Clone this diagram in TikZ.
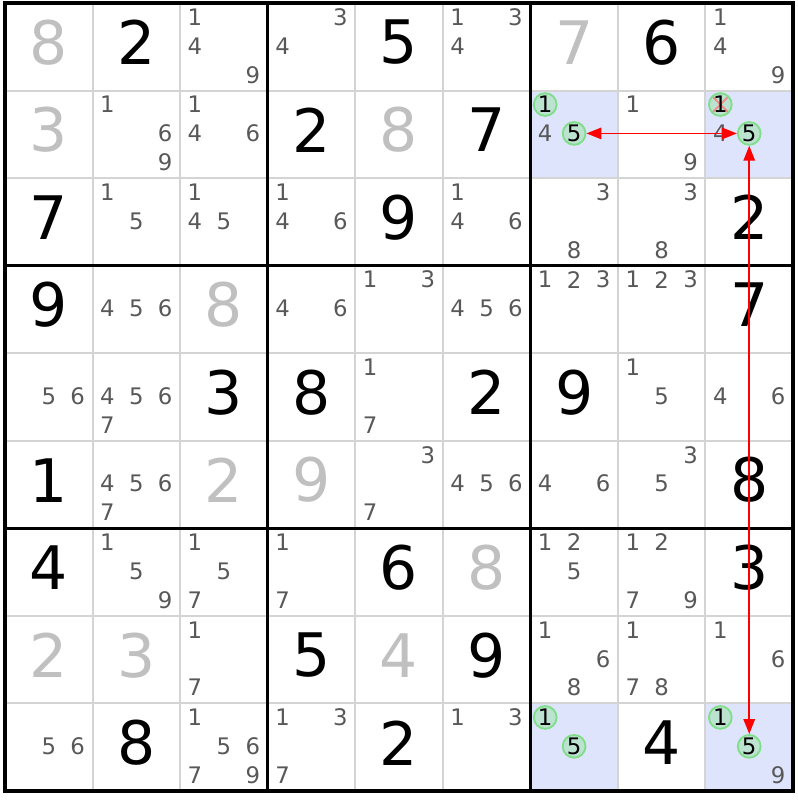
\documentclass[tikz,border=0pt]{standalone}
\usepackage{fontspec}
\setmainfont{DejaVu Sans}
\usetikzlibrary{arrows.meta}
\definecolor{gridgray}{RGB}{212,212,212}
\definecolor{fillgray}{RGB}{192,192,192}
\definecolor{candgray}{RGB}{88,88,88}
\definecolor{cellblue}{RGB}{221,228,252}
\definecolor{pickfill}{RGB}{188,226,208}
\definecolor{pickline}{RGB}{128,222,136}
\definecolor{strike}{RGB}{240,138,138}
\begin{document}
\begin{tikzpicture}[
	given/.style={inner sep=0, font=\fontsize{19.5}{20}\selectfont},
	filled/.style={given, text=fillgray},
	cand/.style={inner sep=0, text=candgray, font=\fontsize{7.4}{8}\selectfont},
	pick/.style={circle, draw=pickline, line width=0.6pt, fill=pickfill, minimum size=0.26cm, inner sep=0, font=\fontsize{7.4}{8}\selectfont},
	struck/.style={path picture={\draw[strike, line width=0.6pt] (path picture bounding box.north west) -- (path picture bounding box.south east) (path picture bounding box.north east) -- (path picture bounding box.south west);}},
	link/.style={red, line width=0.55pt, {Triangle[length=0.17cm,width=0.13cm]}-{Triangle[length=0.17cm,width=0.13cm]}},
	minor/.style={gridgray, line width=0.65pt},
	major/.style={black, line width=1.05pt}]
	\useasboundingbox (-0.057,-0.103) rectangle (9.057,9.034);
	\fill[cellblue] (6,7) rectangle (7,8);
	\fill[cellblue] (8,7) rectangle (9,8);
	\fill[cellblue] (6,0) rectangle (7,1);
	\fill[cellblue] (8,0) rectangle (9,1);
	\foreach \i in {1,2,4,5,7,8} {
		\draw[minor] (\i,0) -- (\i,9);
		\draw[minor] (0,\i) -- (9,\i);
	}
	\foreach \i in {3,6} {
		\draw[major] (\i,0) -- (\i,9);
		\draw[major] (0,\i) -- (9,\i);
	}
	\draw[major] (0,0) rectangle (9,9);

	\node[filled] (r1c1) at (0.5,8.55) {8};
	\node[given] (r1c2) at (1.5,8.55) {2};
	\node[cand] (r1c3n1) at (2.17,8.84) {1};
	\node[cand] (r1c3n4) at (2.17,8.51) {4};
	\node[cand] (r1c3n9) at (2.83,8.18) {9};
	\node[cand] (r1c4n3) at (3.83,8.84) {3};
	\node[cand] (r1c4n4) at (3.17,8.51) {4};
	\node[given] (r1c5) at (4.5,8.55) {5};
	\node[cand] (r1c6n1) at (5.17,8.84) {1};
	\node[cand] (r1c6n3) at (5.83,8.84) {3};
	\node[cand] (r1c6n4) at (5.17,8.51) {4};
	\node[filled] (r1c7) at (6.5,8.55) {7};
	\node[given] (r1c8) at (7.5,8.55) {6};
	\node[cand] (r1c9n1) at (8.17,8.84) {1};
	\node[cand] (r1c9n4) at (8.17,8.51) {4};
	\node[cand] (r1c9n9) at (8.83,8.18) {9};

	\node[filled] (r2c1) at (0.5,7.55) {3};
	\node[cand] (r2c2n1) at (1.17,7.84) {1};
	\node[cand] (r2c2n6) at (1.83,7.51) {6};
	\node[cand] (r2c2n9) at (1.83,7.18) {9};
	\node[cand] (r2c3n1) at (2.17,7.84) {1};
	\node[cand] (r2c3n4) at (2.17,7.51) {4};
	\node[cand] (r2c3n6) at (2.83,7.51) {6};
	\node[given] (r2c4) at (3.5,7.55) {2};
	\node[filled] (r2c5) at (4.5,7.55) {8};
	\node[given] (r2c6) at (5.5,7.55) {7};
	\node[pick] (r2c7n1) at (6.17,7.84) {1};
	\node[cand] (r2c7n4) at (6.17,7.51) {4};
	\node[pick] (r2c7n5) at (6.5,7.51) {5};
	\node[cand] (r2c8n1) at (7.17,7.84) {1};
	\node[cand] (r2c8n9) at (7.83,7.18) {9};
	\node[pick, struck] (r2c9n1) at (8.17,7.84) {1};
	\node[cand] (r2c9n4) at (8.17,7.51) {4};
	\node[pick] (r2c9n5) at (8.5,7.51) {5};

	\node[given] (r3c1) at (0.5,6.55) {7};
	\node[cand] (r3c2n1) at (1.17,6.84) {1};
	\node[cand] (r3c2n5) at (1.5,6.51) {5};
	\node[cand] (r3c3n1) at (2.17,6.84) {1};
	\node[cand] (r3c3n4) at (2.17,6.51) {4};
	\node[cand] (r3c3n5) at (2.5,6.51) {5};
	\node[cand] (r3c4n1) at (3.17,6.84) {1};
	\node[cand] (r3c4n4) at (3.17,6.51) {4};
	\node[cand] (r3c4n6) at (3.83,6.51) {6};
	\node[given] (r3c5) at (4.5,6.55) {9};
	\node[cand] (r3c6n1) at (5.17,6.84) {1};
	\node[cand] (r3c6n4) at (5.17,6.51) {4};
	\node[cand] (r3c6n6) at (5.83,6.51) {6};
	\node[cand] (r3c7n3) at (6.83,6.84) {3};
	\node[cand] (r3c7n8) at (6.5,6.18) {8};
	\node[cand] (r3c8n3) at (7.83,6.84) {3};
	\node[cand] (r3c8n8) at (7.5,6.18) {8};
	\node[given] (r3c9) at (8.5,6.55) {2};

	\node[given] (r4c1) at (0.5,5.55) {9};
	\node[cand] (r4c2n4) at (1.17,5.51) {4};
	\node[cand] (r4c2n5) at (1.5,5.51) {5};
	\node[cand] (r4c2n6) at (1.83,5.51) {6};
	\node[filled] (r4c3) at (2.5,5.55) {8};
	\node[cand] (r4c4n4) at (3.17,5.51) {4};
	\node[cand] (r4c4n6) at (3.83,5.51) {6};
	\node[cand] (r4c5n1) at (4.17,5.84) {1};
	\node[cand] (r4c5n3) at (4.83,5.84) {3};
	\node[cand] (r4c6n4) at (5.17,5.51) {4};
	\node[cand] (r4c6n5) at (5.5,5.51) {5};
	\node[cand] (r4c6n6) at (5.83,5.51) {6};
	\node[cand] (r4c7n1) at (6.17,5.84) {1};
	\node[cand] (r4c7n2) at (6.5,5.84) {2};
	\node[cand] (r4c7n3) at (6.83,5.84) {3};
	\node[cand] (r4c8n1) at (7.17,5.84) {1};
	\node[cand] (r4c8n2) at (7.5,5.84) {2};
	\node[cand] (r4c8n3) at (7.83,5.84) {3};
	\node[given] (r4c9) at (8.5,5.55) {7};

	\node[cand] (r5c1n5) at (0.5,4.51) {5};
	\node[cand] (r5c1n6) at (0.83,4.51) {6};
	\node[cand] (r5c2n4) at (1.17,4.51) {4};
	\node[cand] (r5c2n5) at (1.5,4.51) {5};
	\node[cand] (r5c2n6) at (1.83,4.51) {6};
	\node[cand] (r5c2n7) at (1.17,4.18) {7};
	\node[given] (r5c3) at (2.5,4.55) {3};
	\node[given] (r5c4) at (3.5,4.55) {8};
	\node[cand] (r5c5n1) at (4.17,4.84) {1};
	\node[cand] (r5c5n7) at (4.17,4.18) {7};
	\node[given] (r5c6) at (5.5,4.55) {2};
	\node[given] (r5c7) at (6.5,4.55) {9};
	\node[cand] (r5c8n1) at (7.17,4.84) {1};
	\node[cand] (r5c8n5) at (7.5,4.51) {5};
	\node[cand] (r5c9n4) at (8.17,4.51) {4};
	\node[cand] (r5c9n6) at (8.83,4.51) {6};

	\node[given] (r6c1) at (0.5,3.55) {1};
	\node[cand] (r6c2n4) at (1.17,3.51) {4};
	\node[cand] (r6c2n5) at (1.5,3.51) {5};
	\node[cand] (r6c2n6) at (1.83,3.51) {6};
	\node[cand] (r6c2n7) at (1.17,3.18) {7};
	\node[filled] (r6c3) at (2.5,3.55) {2};
	\node[filled] (r6c4) at (3.5,3.55) {9};
	\node[cand] (r6c5n3) at (4.83,3.84) {3};
	\node[cand] (r6c5n7) at (4.17,3.18) {7};
	\node[cand] (r6c6n4) at (5.17,3.51) {4};
	\node[cand] (r6c6n5) at (5.5,3.51) {5};
	\node[cand] (r6c6n6) at (5.83,3.51) {6};
	\node[cand] (r6c7n4) at (6.17,3.51) {4};
	\node[cand] (r6c7n6) at (6.83,3.51) {6};
	\node[cand] (r6c8n3) at (7.83,3.84) {3};
	\node[cand] (r6c8n5) at (7.5,3.51) {5};
	\node[given] (r6c9) at (8.5,3.55) {8};

	\node[given] (r7c1) at (0.5,2.55) {4};
	\node[cand] (r7c2n1) at (1.17,2.84) {1};
	\node[cand] (r7c2n5) at (1.5,2.51) {5};
	\node[cand] (r7c2n9) at (1.83,2.18) {9};
	\node[cand] (r7c3n1) at (2.17,2.84) {1};
	\node[cand] (r7c3n5) at (2.5,2.51) {5};
	\node[cand] (r7c3n7) at (2.17,2.18) {7};
	\node[cand] (r7c4n1) at (3.17,2.84) {1};
	\node[cand] (r7c4n7) at (3.17,2.18) {7};
	\node[given] (r7c5) at (4.5,2.55) {6};
	\node[filled] (r7c6) at (5.5,2.55) {8};
	\node[cand] (r7c7n1) at (6.17,2.84) {1};
	\node[cand] (r7c7n2) at (6.5,2.84) {2};
	\node[cand] (r7c7n5) at (6.5,2.51) {5};
	\node[cand] (r7c8n1) at (7.17,2.84) {1};
	\node[cand] (r7c8n2) at (7.5,2.84) {2};
	\node[cand] (r7c8n7) at (7.17,2.18) {7};
	\node[cand] (r7c8n9) at (7.83,2.18) {9};
	\node[given] (r7c9) at (8.5,2.55) {3};

	\node[filled] (r8c1) at (0.5,1.55) {2};
	\node[filled] (r8c2) at (1.5,1.55) {3};
	\node[cand] (r8c3n1) at (2.17,1.84) {1};
	\node[cand] (r8c3n7) at (2.17,1.18) {7};
	\node[given] (r8c4) at (3.5,1.55) {5};
	\node[filled] (r8c5) at (4.5,1.55) {4};
	\node[given] (r8c6) at (5.5,1.55) {9};
	\node[cand] (r8c7n1) at (6.17,1.84) {1};
	\node[cand] (r8c7n6) at (6.83,1.51) {6};
	\node[cand] (r8c7n8) at (6.5,1.18) {8};
	\node[cand] (r8c8n1) at (7.17,1.84) {1};
	\node[cand] (r8c8n7) at (7.17,1.18) {7};
	\node[cand] (r8c8n8) at (7.5,1.18) {8};
	\node[cand] (r8c9n1) at (8.17,1.84) {1};
	\node[cand] (r8c9n6) at (8.83,1.51) {6};

	\node[cand] (r9c1n5) at (0.5,0.51) {5};
	\node[cand] (r9c1n6) at (0.83,0.51) {6};
	\node[given] (r9c2) at (1.5,0.55) {8};
	\node[cand] (r9c3n1) at (2.17,0.84) {1};
	\node[cand] (r9c3n5) at (2.5,0.51) {5};
	\node[cand] (r9c3n6) at (2.83,0.51) {6};
	\node[cand] (r9c3n7) at (2.17,0.18) {7};
	\node[cand] (r9c3n9) at (2.83,0.18) {9};
	\node[cand] (r9c4n1) at (3.17,0.84) {1};
	\node[cand] (r9c4n3) at (3.83,0.84) {3};
	\node[cand] (r9c4n7) at (3.17,0.18) {7};
	\node[given] (r9c5) at (4.5,0.55) {2};
	\node[cand] (r9c6n1) at (5.17,0.84) {1};
	\node[cand] (r9c6n3) at (5.83,0.84) {3};
	\node[pick] (r9c7n1) at (6.17,0.84) {1};
	\node[pick] (r9c7n5) at (6.5,0.51) {5};
	\node[given] (r9c8) at (7.5,0.55) {4};
	\node[pick] (r9c9n1) at (8.17,0.84) {1};
	\node[pick] (r9c9n5) at (8.5,0.51) {5};
	\node[cand] (r9c9n9) at (8.83,0.18) {9};

	\draw[link] (r2c7n5) -- (r2c9n5);
	\draw[link] (r2c9n5) -- (r9c9n5);
\end{tikzpicture}
\end{document}
